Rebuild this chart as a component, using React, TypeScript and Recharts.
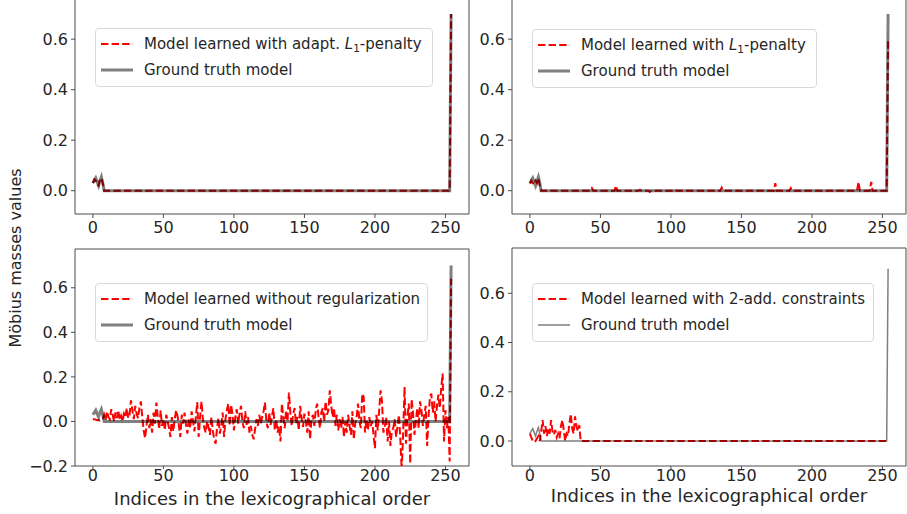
import React from 'react';
import { LineChart, Line, XAxis, YAxis, ReferenceArea, Legend } from 'recharts';

const FONT = '"DejaVu Sans", sans-serif';
const INK = '#262626';
const SPINE = '#4d4d4d';

// 255 subsets of 8 features in lexicographical order (singletons first, full set last)
const indexCount = 255;
const xTicks = [0, 50, 100, 150, 200, 250];

const groundTruthHead = [0.03, 0.04, 0.05, 0.035, 0.02, 0.04, 0.055, 0.03];
const groundTruthLast = 0.7;

const adaptL1Head = [0.03, 0.045, 0.04, 0.025, 0.02, 0.045, 0.05, 0.03];
const adaptL1Last = 0.7;

const l1Head = [0.028, 0.04, 0.03, 0.025, 0.04, 0.03, 0.05, 0.02];
const l1Bumps: [number, number][] = [
  [44, 0.01], [61, 0.02], [78, 0.004], [85, -0.005], [103, 0.003],
  [136, 0.012], [174, 0.03], [185, 0.01], [233, 0.035], [242, 0.035],
];
const l1Last = 0.6;

const noRegValues = [
  0.01, 0.01, 0.008, 0.005, 0.006, 0.004, 0.008, 0.012,
  0.03, 0.005, 0.045, 0.02, 0.01, 0.055, 0.03, 0.0, 0.04, 0.015, 0.05, 0.005,
  0.025, 0.0, 0.035, 0.02, 0.06, 0.015, 0.03, 0.095, 0.05, 0.01, 0.07, 0.035, 0.015, 0.06, 0.09, 0.02,
  -0.04, -0.075, -0.02, 0.03, -0.03, 0.01, -0.05, 0.04, -0.01, 0.085,
  0.02, -0.035, 0.05, -0.02, 0.01, -0.04, 0.03, 0.0, -0.03, -0.07,
  0.02, -0.045, 0.01, 0.05, 0.025, -0.02, -0.07, 0.03, -0.01, 0.04,
  -0.015, -0.055, 0.015, -0.03, 0.045, 0.0, -0.045, 0.02, 0.087, -0.07,
  0.02, 0.09, 0.01, -0.03, -0.05, 0.0, -0.025, -0.06, 0.02, -0.04,
  -0.08, -0.1, -0.03, 0.015, -0.055, -0.02, 0.04, -0.07, 0.01, 0.05,
  0.08, -0.02, 0.075, 0.03, -0.04, 0.02, 0.055, -0.01, 0.035, 0.07,
  0.0, -0.03, 0.045, -0.015, 0.02, -0.05, -0.02, -0.06, -0.08, -0.035,
  0.01, -0.02, 0.03, -0.01, 0.02, 0.045, 0.085, 0.0, -0.03, 0.04,
  -0.015, 0.025, 0.06, -0.04, 0.01, -0.05, -0.02, -0.09, 0.08, 0.02,
  -0.03, 0.05, 0.0, 0.13, 0.04, -0.02, 0.03, 0.06, -0.01, 0.02,
  -0.04, 0.07, 0.015, -0.025, 0.035, 0.0, -0.05, 0.045, -0.08, 0.01,
  0.03, -0.02, 0.05, 0.08, 0.02, -0.03, 0.04, 0.06, 0.0, 0.09,
  0.03, 0.05, 0.14, 0.07, 0.02, 0.06, -0.02, 0.03, -0.04, 0.01,
  -0.03, 0.02, -0.07, 0.0, -0.05, 0.03, -0.02, -0.06, 0.045, -0.08,
  -0.01, 0.02, 0.08, 0.0, -0.03, 0.125, 0.11, -0.05, 0.01, -0.04,
  0.02, -0.02, 0.0, -0.06, -0.12, 0.03, -0.04, 0.05, 0.14, 0.09,
  -0.05, -0.02, 0.02, -0.09, 0.0, -0.11, -0.04, -0.03, 0.01, -0.07,
  -0.02, 0.03, -0.08, -0.22, -0.05, 0.155, -0.1, 0.02, 0.08, -0.19,
  0.1, 0.04, -0.06, 0.0, 0.06, -0.03, 0.09, 0.05, -0.02, 0.03,
  0.07, -0.11, 0.02, 0.11, 0.125, 0.04, 0.09, 0.0, 0.07, 0.12,
  0.06, 0.15, 0.215, -0.09, 0.05, -0.03, 0.02, -0.18,
  0.64,
];

// singletons + pairs (indices 0..35), everything else zero
const twoAddHead = [
  0.03, 0.015, 0.0, 0.005, 0.0, 0.01, 0.02, 0.0, 0.04, 0.085,
  0.03, 0.06, 0.02, 0.05, 0.03, 0.085, 0.04, 0.025, 0.045, 0.015,
  0.03, 0.01, 0.06, 0.085, 0.045, 0.0, 0.03, 0.02, 0.07, 0.11,
  0.05, 0.03, 0.1, 0.06, 0.04, 0.065,
];

function sparse(head: number[], last: number, bumps: [number, number][] = []) {
  const out: number[] = [];
  for (let i = 0; i < indexCount; i++) out.push(i < head.length ? head[i] : 0);
  bumps.forEach(([i, v]) => { out[i] = v; });
  out[indexCount - 1] = last;
  return out;
}

const groundTruth = sparse(groundTruthHead, groundTruthLast);

function rowsFor(pred: number[]) {
  return groundTruth.map((gt, i) => ({ idx: i, gt, pred: pred[i] }));
}

const fmtY = (v: number) => (v < 0 ? '\u2212' + Math.abs(v).toFixed(1) : v.toFixed(1));

const rowStyle: React.CSSProperties = { display: 'flex', alignItems: 'center', height: 26, whiteSpace: 'nowrap' };

function LegendBox({ label, gtWidth, width }: any) {
  return (
    <div style={{
      width, boxSizing: 'border-box', background: 'rgba(255,255,255,0.8)', border: '1px solid #d9d9d9',
      borderRadius: 4, padding: '2px 0 3px 5px', fontFamily: FONT, fontSize: 15, color: INK,
    }}>
      <div style={rowStyle}>
        <svg width={32} height={10} style={{ marginRight: 11, flexShrink: 0 }}>
          <line x1={0} y1={5} x2={32} y2={5} stroke="#ff0000" strokeWidth={2} strokeDasharray="7.4 3.2" />
        </svg>
        <span>{label}</span>
      </div>
      <div style={rowStyle}>
        <svg width={32} height={10} style={{ marginRight: 11, flexShrink: 0 }}>
          <line x1={0} y1={5} x2={32} y2={5} stroke="#000" strokeOpacity={0.5} strokeWidth={gtWidth} />
        </svg>
        <span>Ground truth model</span>
      </div>
    </div>
  );
}

const L1 = (
  <>
    <span style={{ fontStyle: 'italic' }}>L</span>
    <span style={{ fontSize: '0.7em', verticalAlign: '-0.25em', lineHeight: 0 }}>1</span>
  </>
);

function Panel({ box, margin, yDomain, yTicks, pred, legend, gtWidth, bottomRow }: any) {
  const xDomain = [-12.7, 266.7];
  const data = rowsFor(pred);
  return (
    <div style={{ position: 'absolute', left: box.left, top: box.top }}>
      <LineChart width={box.width} height={box.height} data={data} margin={margin}>
        <XAxis
          dataKey="idx" type="number" domain={xDomain} ticks={xTicks} interval={0} allowDataOverflow
          axisLine={false} tickSize={bottomRow ? 3 : 4} tickMargin={bottomRow ? 1 : 4}
          tickLine={{ stroke: SPINE }} height={bottomRow ? 45 : 30}
          tick={{ fontSize: 16, fill: INK, fontFamily: FONT }}
          label={bottomRow ? {
            value: 'Indices in the lexicographical order', position: 'insideBottom', offset: bottomRow.labelOffset,
            fontSize: 18, fill: INK, fontFamily: FONT,
          } : undefined}
        />
        <YAxis
          type="number" domain={yDomain} ticks={yTicks} interval={0} allowDataOverflow width={50}
          axisLine={false} tickSize={4} tickMargin={3} tickLine={{ stroke: SPINE }}
          tickFormatter={fmtY} tick={{ fontSize: 16, fill: INK, fontFamily: FONT }}
        />
        <ReferenceArea
          x1={xDomain[0]} x2={xDomain[1]} y1={yDomain[0]} y2={yDomain[1]}
          fill="none" fillOpacity={0} stroke={SPINE} strokeWidth={1} strokeOpacity={1} ifOverflow="visible"
        />
        <Line
          type="linear" dataKey="pred" stroke="#ff0000" strokeWidth={2} strokeDasharray="7.4 3.2"
          dot={false} activeDot={false} isAnimationActive={false}
        />
        <Line
          type="linear" dataKey="gt" stroke="#000000" strokeOpacity={0.5} strokeWidth={gtWidth}
          dot={false} activeDot={false} isAnimationActive={false}
        />
        <Legend
          layout="horizontal" verticalAlign="middle" align="center"
          wrapperStyle={{ left: legend.left, top: legend.top, width: legend.width, height: 'auto' }}
          content={() => <LegendBox label={legend.label} gtWidth={gtWidth} width={legend.width} />}
        />
      </LineChart>
    </div>
  );
}

export default function App() {
  return (
    <div style={{ position: 'absolute', left: 0, top: 0, width: 907, height: 514, overflow: 'hidden', background: '#fff' }}>
      <Panel
        box={{ left: 0, top: -4, width: 480, height: 250 }}
        margin={{ top: 0, right: 11, bottom: 2, left: 25 }}
        yDomain={[-0.0923, 0.771]} yTicks={[0, 0.2, 0.4, 0.6]}
        pred={sparse(adaptL1Head, adaptL1Last)} gtWidth={3}
        legend={{ left: 95, top: 32, width: 338, label: <>Model learned with adapt. {L1}-penalty</> }}
      />
      <Panel
        box={{ left: 440, top: -4, width: 467, height: 250 }}
        margin={{ top: 0, right: 1, bottom: 2, left: 22 }}
        yDomain={[-0.0923, 0.771]} yTicks={[0, 0.2, 0.4, 0.6]}
        pred={sparse(l1Head, l1Last, l1Bumps)} gtWidth={3}
        legend={{ left: 92, top: 33, width: 285, label: <>Model learned with {L1}-penalty</> }}
      />
      <Panel
        box={{ left: 0, top: 240, width: 480, height: 274 }}
        margin={{ top: 9, right: 11, bottom: 3, left: 25 }}
        yDomain={[-0.2, 0.774]} yTicks={[-0.2, 0, 0.2, 0.4, 0.6]}
        pred={noRegValues} gtWidth={3} bottomRow={{ labelOffset: 6 }}
        legend={{ left: 95, top: 43, width: 333, label: 'Model learned without regularization' }}
      />
      <Panel
        box={{ left: 440, top: 240, width: 467, height: 274 }}
        margin={{ top: 8, right: 1, bottom: 3, left: 22 }}
        yDomain={[-0.1016, 0.784]} yTicks={[0, 0.2, 0.4, 0.6]}
        pred={sparse(twoAddHead, 0)} gtWidth={1.5} bottomRow={{ labelOffset: 9 }}
        legend={{ left: 92, top: 43, width: 342, label: 'Model learned with 2-add. constraints' }}
      />
      <svg width={30} height={514} style={{ position: 'absolute', left: 0, top: 0 }}>
        <text
          x={0} y={0} transform="translate(21 258) rotate(-90)" textAnchor="middle"
          fontFamily={FONT} fontSize={16} fill={INK}
        >
          Möbius masses values
        </text>
      </svg>
    </div>
  );
}
